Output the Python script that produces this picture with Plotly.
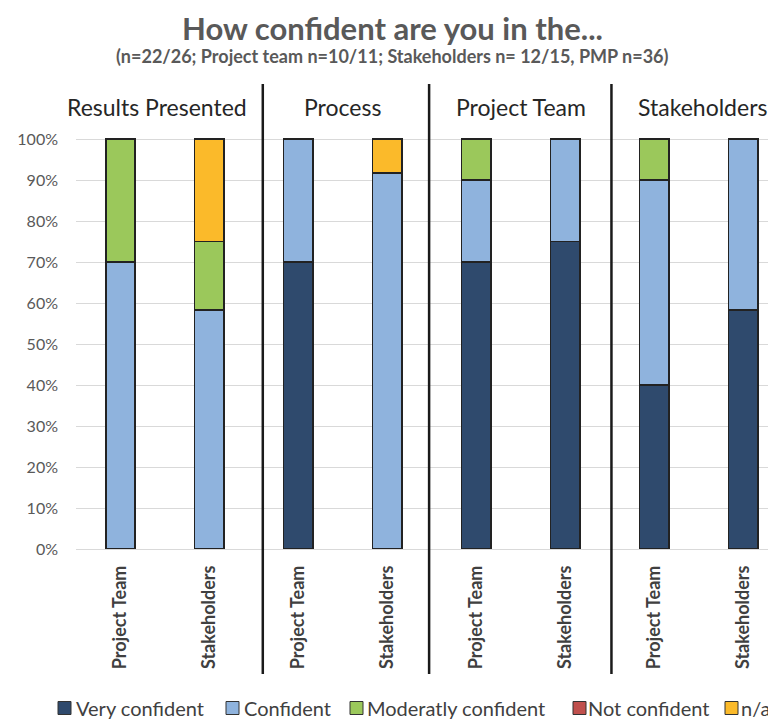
import plotly.graph_objects as go

# ---- data ----
categories = ["Project Team", "Stakeholders"] * 4
groups = ["Results Presented", "Process", "Project Team", "Stakeholders"]
series_names = ["Very confident", "Confident", "Moderatly confident", "Not confident", "n/a"]
very_confident = [0, 0, 70, 0, 70, 75, 40, 58.3]
confident = [70, 58.3, 30, 91.7, 20, 25, 50, 41.7]
moderately_confident = [30, 16.7, 0, 0, 10, 0, 10, 0]
not_confident = [0, 0, 0, 0, 0, 0, 0, 0]
not_applicable = [0, 25, 0, 8.3, 0, 0, 0, 0]
y_ticks = [0, 10, 20, 30, 40, 50, 60, 70, 80, 90, 100]
y_tick_labels = [f"{v}%" for v in y_ticks]

series_values = [very_confident, confident, moderately_confident, not_confident, not_applicable]
colors = ["#2F4A6D", "#8FB3DD", "#9BC85B", "#C0504D", "#FBBA2A"]

FONT = "Lato"
# page body has an 8px margin, so the figure is 768x713 inside the 776x721 window
W, H = 768, 713
PLOT_L, PLOT_R = 68, 768
PLOT_T, PLOT_B = 129, 541

def py(pixel_y):
    return (PLOT_B - pixel_y) / (PLOT_B - PLOT_T)

def px(pixel_x):
    return (pixel_x - PLOT_L) / (PLOT_R - PLOT_L)

xs = list(range(len(categories)))
fig = go.Figure()
for name, vals, col in zip(series_names, series_values, colors):
    fig.add_trace(go.Bar(
        x=xs, y=vals, name=name, width=0.33,
        marker=dict(color=col, line=dict(color="#222222", width=1.5)),
        showlegend=False,
    ))

# group dividers
for xd in [1.6, 3.47, 5.52]:
    fig.add_shape(type="line", xref="x", yref="paper", x0=xd, x1=xd,
                  y0=py(666), y1=py(76), line=dict(color="#1a1a1a", width=2.5))

# group labels
for g, xc in zip(groups, [0.405, 2.5, 4.5, 6.54]):
    fig.add_annotation(x=xc, xref="x", y=py(99), yref="paper", text=g,
                       yanchor="middle", showarrow=False,
                       font=dict(family=FONT, size=23, color="#262626"))

# title and subtitle (centered on the figure, x=384px)
fig.add_annotation(x=px(384), xref="paper", y=py(20), yref="paper", xanchor="center",
                   yanchor="middle", showarrow=False, borderpad=0,
                   text="<b>How confident are you in the...</b>",
                   font=dict(family=FONT, size=31, color="#595959"))
fig.add_annotation(x=px(384), xref="paper", y=py(48), yref="paper", xanchor="center",
                   yanchor="middle", showarrow=False,
                   text="<b>(n=22/26; Project team n=10/11; Stakeholders n= 12/15, PMP n=36)</b>",
                   font=dict(family=FONT, size=18, color="#595959"))

# manual legend
sq_x = [50, 218, 342, 565, 717]
txt_x = [67, 235, 358, 579, 732]
LEG_Y = 700
for name, col, sx, tx in zip(series_names, colors, sq_x, txt_x):
    fig.add_shape(type="rect", xref="paper", yref="paper",
                  x0=px(sx), x1=px(sx + 13), y0=py(LEG_Y + 6.5), y1=py(LEG_Y - 6.5),
                  fillcolor=col, line=dict(color="#333333", width=1))
    fig.add_annotation(x=px(tx), xref="paper", y=py(LEG_Y), yref="paper",
                       text=name, xanchor="left", yanchor="middle", showarrow=False,
                       borderpad=0,
                       font=dict(family=FONT, size=20, color="#404040"))

fig.update_layout(
    barmode="stack",
    width=W, height=H,
    margin=dict(l=PLOT_L, r=W - PLOT_R, t=PLOT_T, b=H - PLOT_B),
    plot_bgcolor="white", paper_bgcolor="white",
    xaxis=dict(
        tickmode="array", tickvals=xs, ticktext=categories, tickangle=-90,
        range=[-0.5, 7.37], showgrid=False, ticks="", ticklabelstandoff=12,
        tickfont=dict(family=FONT, size=18, color="#404040", weight="bold"),
        showline=False, zeroline=False,
    ),
    yaxis=dict(
        range=[0, 100.5], tickmode="array", tickvals=y_ticks, ticktext=y_tick_labels,
        gridcolor="#D9D9D9", gridwidth=1, zeroline=True, zerolinecolor="#D9D9D9",
        zerolinewidth=1, ticks="", ticklabelstandoff=17,
        tickfont=dict(family=FONT, size=16, color="#595959"),
    ),
)

fig.write_html("out.html")
